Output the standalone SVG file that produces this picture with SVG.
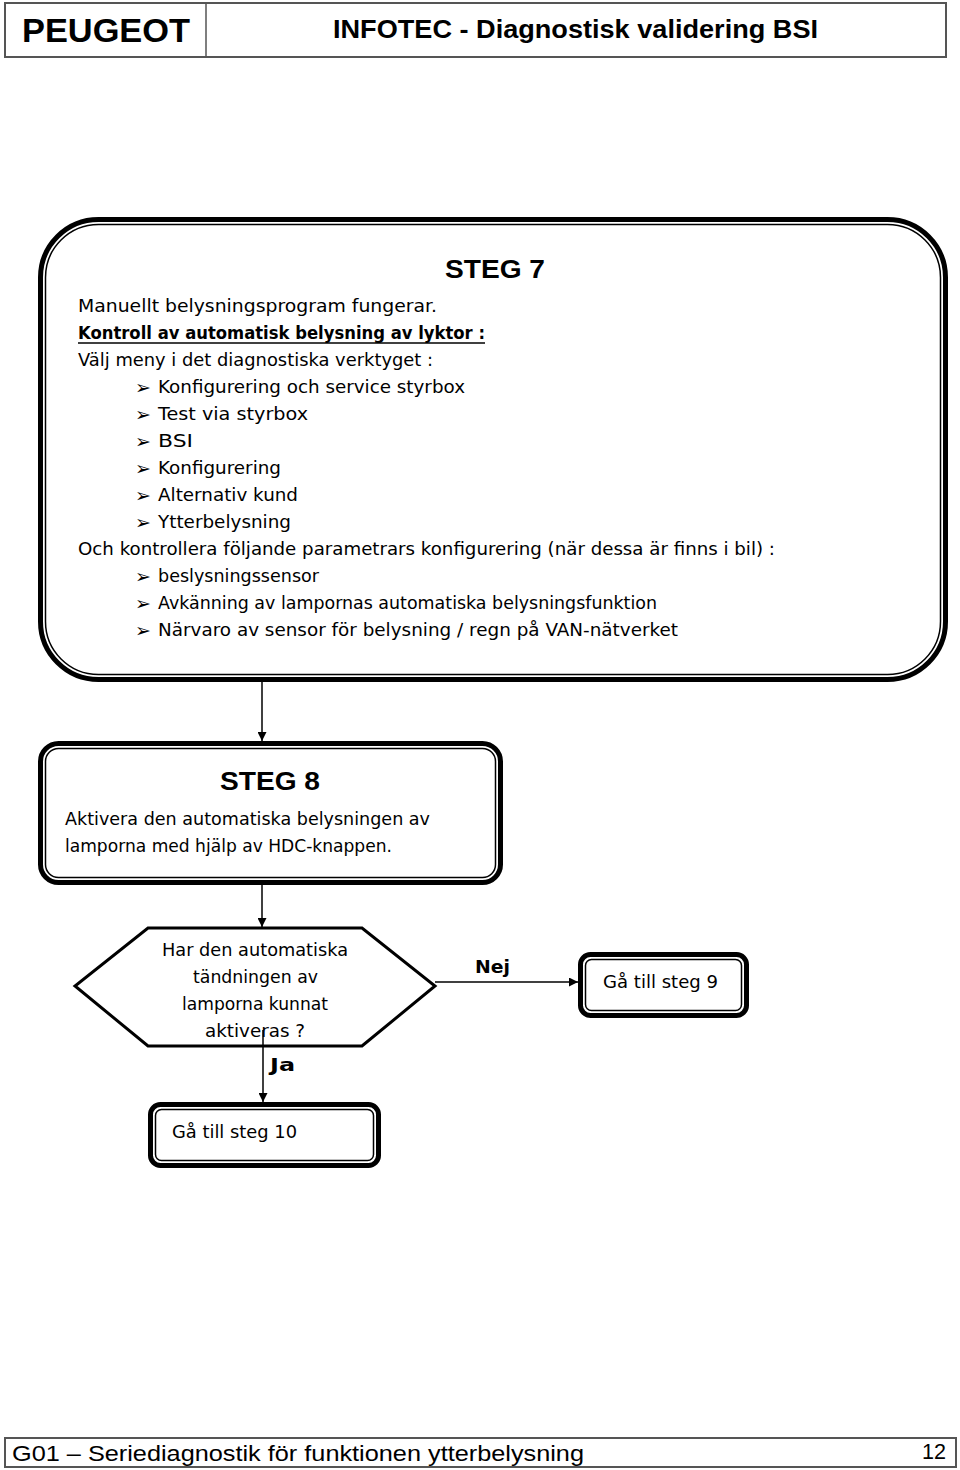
<svg xmlns="http://www.w3.org/2000/svg" width="960" height="1470" viewBox="0 0 960 1470">
<style>
.hdr{font-family:"Liberation Sans",Arial,sans-serif;font-weight:bold;fill:#000}
.ft{font-family:"Liberation Sans",Arial,sans-serif;fill:#000;font-size:22px}
.t{font-family:"DejaVu Sans","Liberation Sans",sans-serif;font-size:17px;fill:#000}
.st{font-family:"Liberation Sans",Arial,sans-serif;font-weight:bold;font-size:26px;fill:#000}
.b{font-weight:bold}
.bul{font-family:"DejaVu Sans",sans-serif;font-size:19px;fill:#000}
.outer{fill:#fff;stroke:#000;stroke-width:5}
.inner{fill:none;stroke:#000;stroke-width:1.5}
.conn{stroke:#000;stroke-width:1.5;fill:none}
</style>
<defs>
<marker id="ah" viewBox="0 0 10 10" refX="10" refY="5" markerWidth="9" markerHeight="9" markerUnits="userSpaceOnUse" orient="auto">
<path d="M0,0 L10,5 L0,10 Z" fill="#000"/>
</marker>
</defs>
<rect width="960" height="1470" fill="#fff"/>
<g id="header">
<rect x="5" y="3" width="941" height="54" fill="#fff" stroke="#555" stroke-width="2"/>
<line x1="206" y1="3" x2="206" y2="57" stroke="#555" stroke-width="1.5"/>
<text class="hdr" x="22" y="42" font-size="34" textLength="168" lengthAdjust="spacingAndGlyphs">PEUGEOT</text>
<text class="hdr" x="333" y="38" font-size="25" textLength="485" lengthAdjust="spacingAndGlyphs">INFOTEC - Diagnostisk validering BSI</text>
</g>
<g id="steg7">
<rect class="outer" x="40.5" y="219.5" width="905" height="460" rx="58"/>
<rect class="inner" x="45.5" y="224.5" width="895" height="450" rx="53"/>
<text class="st" x="445" y="278" textLength="100" lengthAdjust="spacingAndGlyphs">STEG 7</text>
<text class="t" x="78" y="312" textLength="359" lengthAdjust="spacingAndGlyphs">Manuellt belysningsprogram fungerar.</text>
<text class="t b" x="78" y="339" textLength="407" lengthAdjust="spacingAndGlyphs">Kontroll av automatisk belysning av lyktor :</text>
<line x1="78" y1="343" x2="485" y2="343" stroke="#000" stroke-width="1.4"/>
<text class="t" x="78" y="366" textLength="355" lengthAdjust="spacingAndGlyphs">Välj meny i det diagnostiska verktyget :</text>
<text class="bul" x="135" y="394">➢</text>
<text class="bul" x="135" y="421">➢</text>
<text class="bul" x="135" y="448">➢</text>
<text class="bul" x="135" y="475">➢</text>
<text class="bul" x="135" y="502">➢</text>
<text class="bul" x="135" y="529">➢</text>
<text class="bul" x="135" y="583">➢</text>
<text class="bul" x="135" y="610">➢</text>
<text class="bul" x="135" y="637">➢</text>
<text class="t" x="158" y="393" textLength="307" lengthAdjust="spacingAndGlyphs">Konfigurering och service styrbox</text>
<text class="t" x="158" y="420" textLength="150" lengthAdjust="spacingAndGlyphs">Test via styrbox</text>
<text class="t" x="158" y="447" textLength="35" lengthAdjust="spacingAndGlyphs">BSI</text>
<text class="t" x="158" y="474" textLength="123" lengthAdjust="spacingAndGlyphs">Konfigurering</text>
<text class="t" x="158" y="501" textLength="140" lengthAdjust="spacingAndGlyphs">Alternativ kund</text>
<text class="t" x="158" y="528" textLength="133" lengthAdjust="spacingAndGlyphs">Ytterbelysning</text>
<text class="t" x="78" y="555" textLength="697" lengthAdjust="spacingAndGlyphs">Och kontrollera följande parametrars konfigurering (när dessa är finns i bil) :</text>
<text class="t" x="158" y="582" textLength="161" lengthAdjust="spacingAndGlyphs">beslysningssensor</text>
<text class="t" x="158" y="609" textLength="499" lengthAdjust="spacingAndGlyphs">Avkänning av lampornas automatiska belysningsfunktion</text>
<text class="t" x="158" y="636" textLength="520" lengthAdjust="spacingAndGlyphs">Närvaro av sensor för belysning / regn på VAN-nätverket</text>
</g>
<g id="steg8">
<rect class="outer" x="40.5" y="743.5" width="460" height="139" rx="18"/>
<rect class="inner" x="45.5" y="748.5" width="450" height="129" rx="13"/>
<text class="st" x="220" y="790" font-size="25" textLength="100" lengthAdjust="spacingAndGlyphs">STEG 8</text>
<text class="t" x="65" y="825" textLength="365" lengthAdjust="spacingAndGlyphs">Aktivera den automatiska belysningen av</text>
<text class="t" x="65" y="852" textLength="327" lengthAdjust="spacingAndGlyphs">lamporna med hjälp av HDC-knappen.</text>
</g>
<g id="decision">
<polygon points="148,928 362,928 435,986 362,1046 148,1046 75,986" fill="#fff" stroke="#000" stroke-width="3"/>
<text class="t" x="162" y="956" textLength="186" lengthAdjust="spacingAndGlyphs">Har den automatiska</text>
<text class="t" x="193" y="983" textLength="125" lengthAdjust="spacingAndGlyphs">tändningen av</text>
<text class="t" x="182" y="1010" textLength="146" lengthAdjust="spacingAndGlyphs">lamporna kunnat</text>
<text class="t" x="205" y="1037" textLength="100" lengthAdjust="spacingAndGlyphs">aktiveras ?</text>
</g>
<g id="steg9">
<rect class="outer" x="580.5" y="954.5" width="166" height="61" rx="10"/>
<rect class="inner" x="585.5" y="959.5" width="156" height="51" rx="6"/>
<text class="t" x="603" y="988" textLength="115" lengthAdjust="spacingAndGlyphs">Gå till steg 9</text>
</g>
<g id="steg10">
<rect class="outer" x="150.5" y="1104.5" width="228" height="61" rx="10"/>
<rect class="inner" x="155.5" y="1109.5" width="218" height="51" rx="6"/>
<text class="t" x="172" y="1138" textLength="125" lengthAdjust="spacingAndGlyphs">Gå till steg 10</text>
</g>
<g id="connectors">
<line class="conn" x1="262" y1="682" x2="262" y2="741" marker-end="url(#ah)"/>
<line class="conn" x1="262" y1="885" x2="262" y2="927" marker-end="url(#ah)"/>
<line class="conn" x1="435" y1="982" x2="578" y2="982" marker-end="url(#ah)"/>
<line class="conn" x1="263" y1="1030" x2="263" y2="1102" marker-end="url(#ah)"/>
<text class="t b" x="475" y="973" textLength="35" lengthAdjust="spacingAndGlyphs">Nej</text>
<text class="t b" x="270" y="1071" textLength="25" lengthAdjust="spacingAndGlyphs">Ja</text>
</g>
<g id="footer">
<rect x="5" y="1438" width="951" height="29" fill="#fff" stroke="#555" stroke-width="2"/>
<text class="ft" x="12" y="1461" textLength="572" lengthAdjust="spacingAndGlyphs">G01 – Seriediagnostik för funktionen ytterbelysning</text>
<text class="ft" x="922" y="1459" textLength="24" lengthAdjust="spacingAndGlyphs">12</text>
</g>
</svg>
